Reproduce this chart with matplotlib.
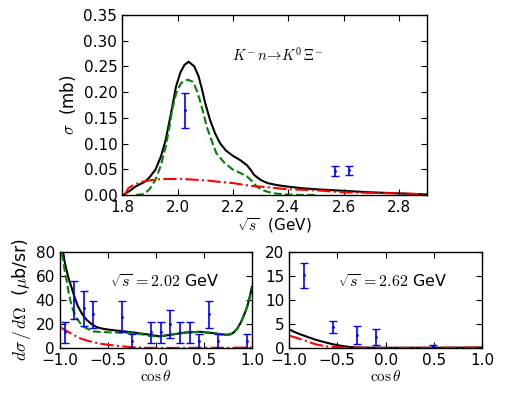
import matplotlib
matplotlib.use("Agg")
import matplotlib.pyplot as plt

plt.rcParams.update({
    "font.size": 11,
    "mathtext.fontset": "cm",
    "xtick.direction": "in", "ytick.direction": "in",
    "xtick.top": True, "ytick.right": True,
    "xtick.major.size": 4, "ytick.major.size": 4,
    "axes.linewidth": 1.0,
})

# total cross section, sqrt(s) in GeV, sigma in mb
tot_x = [1.804, 1.83, 1.847, 1.865, 1.883, 1.90, 1.92, 1.94, 1.957, 1.975, 1.994, 2.01,
         2.025, 2.04, 2.06, 2.075, 2.086, 2.10, 2.117, 2.135, 2.154, 2.175, 2.2, 2.225,
         2.25, 2.265, 2.276, 2.30, 2.325, 2.36, 2.4, 2.45, 2.5, 2.6, 2.7, 2.8, 2.9]
tot_y = [0.0, 0.009, 0.016, 0.021, 0.026, 0.035, 0.049, 0.075, 0.107, 0.155, 0.21, 0.238,
         0.253, 0.259, 0.25, 0.232, 0.21, 0.178, 0.146, 0.12, 0.10, 0.086, 0.076, 0.068,
         0.058, 0.048, 0.039, 0.029, 0.023, 0.019, 0.016, 0.013, 0.011, 0.008, 0.005, 0.003, 0.001]
res_x = [1.85, 1.87, 1.883, 1.90, 1.92, 1.94, 1.957, 1.97, 1.98, 1.995, 2.012, 2.025, 2.037,
         2.055, 2.068, 2.08, 2.093, 2.105, 2.12, 2.14, 2.17, 2.2, 2.225, 2.25, 2.27, 2.286,
         2.305, 2.325, 2.35, 2.386, 2.43, 2.5]
res_y = [0.0, 0.001, 0.003, 0.012, 0.029, 0.058, 0.094, 0.13, 0.165, 0.198, 0.217, 0.222, 0.224,
         0.22, 0.205, 0.185, 0.16, 0.133, 0.11, 0.081, 0.062, 0.049, 0.043, 0.036, 0.026, 0.016,
         0.01, 0.006, 0.003, 0.001, 0.0, 0.0]
bg_x = [1.81, 1.822, 1.84, 1.859, 1.875, 1.896, 1.92, 1.957, 2.0, 2.018, 2.05, 2.08, 2.11,
        2.14, 2.17, 2.2, 2.23, 2.26, 2.29, 2.325, 2.36, 2.4, 2.45, 2.5, 2.55, 2.6, 2.7, 2.8, 2.9]
bg_y = [0.0, 0.013, 0.019, 0.023, 0.026, 0.028, 0.030, 0.031, 0.031, 0.031, 0.030, 0.029, 0.028,
        0.026, 0.0245, 0.023, 0.0205, 0.018, 0.0165, 0.015, 0.013, 0.011, 0.010, 0.009, 0.007,
        0.005, 0.004, 0.003, 0.001]
dat_x = [2.028, 2.568, 2.617]
dat_y = [0.165, 0.046, 0.048]
dat_e = [0.034, 0.01, 0.009]

# differential cross section at sqrt(s)=2.02 GeV
l_tot_x = [-0.965, -0.95, -0.93, -0.905, -0.88, -0.845, -0.81, -0.765, -0.72, -0.67, -0.617,
           -0.55, -0.48, -0.35, -0.235, -0.15, -0.06, 0.04, 0.15, 0.23, 0.32, 0.46, 0.6, 0.67,
           0.74, 0.78, 0.81, 0.845, 0.88, 0.915, 0.95, 0.975, 1.0]
l_tot_y = [80, 72, 65, 57, 51, 42, 34.5, 28, 23.4, 20, 17.4, 16, 15.2, 14, 13, 12, 11, 9.7, 11,
           12, 13, 13.5, 12.4, 11.5, 11, 11.5, 13, 16, 20.7, 27, 34.5, 42, 51]
l_res_x = [-0.98, -0.965, -0.95, -0.93, -0.905, -0.88, -0.855, -0.826, -0.79, -0.757, -0.7,
           -0.65, -0.55, -0.48, -0.35, -0.235, -0.15, -0.06, 0.04, 0.15, 0.23, 0.32, 0.46, 0.6,
           0.67, 0.74, 0.78, 0.81, 0.845, 0.88, 0.915, 0.95, 0.975, 1.0]
l_res_y = [79, 73, 65, 56.5, 45, 36, 30, 25, 21, 18, 15.5, 13.8, 13.3, 13, 12.8, 12.4, 11.5, 10,
           9.7, 11, 12, 13, 13.5, 12.4, 11.5, 11, 11.5, 13, 16, 20.7, 27, 34.5, 42, 51]
l_bg_x = [-1.0, -0.93, -0.88, -0.83, -0.78, -0.72, -0.65, -0.58, -0.5, -0.41, -0.32, -0.235,
          -0.1, 0.0, 0.25, 0.5, 0.75, 1.0]
l_bg_y = [17.4, 14.3, 12.0, 9.7, 7.8, 6.3, 4.8, 3.6, 2.7, 1.9, 1.2, 0.6, 0.2, 0.1, 0.1, 0.2, 0.2, 0.4]
l_dat_x = [-0.95, -0.85, -0.75, -0.65, -0.35, -0.25, -0.05, 0.05, 0.15, 0.25, 0.35, 0.45,
           0.55, 0.65, 0.95]
l_dat_y = [13, 40, 33, 28, 26, 6, 13, 13, 20, 13, 13, 6, 28, 6, 6]
l_dat_e = [9, 16, 14.6, 11.5, 13, 6, 9, 9, 11.5, 9, 9, 6, 11.5, 6, 6]

# differential cross section at sqrt(s)=2.62 GeV
r_tot_x = [-1.0, -0.95, -0.89, -0.8, -0.72, -0.63, -0.54, -0.45, -0.37, -0.28, -0.2, 0.0, 0.5, 1.0]
r_tot_y = [3.9, 3.4, 2.9, 2.25, 1.7, 1.2, 0.75, 0.42, 0.2, 0.1, 0.07, 0.05, 0.05, 0.1]
r_bg_x = [-1.0, -0.95, -0.89, -0.8, -0.72, -0.61, -0.47, -0.3, 0.0, 0.5, 1.0]
r_bg_y = [2.6, 2.3, 1.9, 1.3, 0.75, 0.34, 0.14, 0.05, 0.03, 0.05, 0.1]
r_dat_x = [-0.845, -0.544, -0.30, -0.10, 0.49]
r_dat_y = [15.2, 4.4, 2.7, 2.3, 0.35]
r_dat_e = [2.6, 1.3, 1.8, 1.6, 0.35]

fig = plt.figure(figsize=(5.07, 3.93), dpi=100)
ax = fig.add_axes([0.241, 0.504, 0.601, 0.458])
ax.plot(tot_x, tot_y, "k-", lw=1.5)
ax.plot(res_x, res_y, "g--", lw=1.5)
ax.plot(bg_x, bg_y, "r-.", lw=1.5)
ax.errorbar(dat_x, dat_y, yerr=dat_e, fmt=".", color="b", ms=2, capsize=3, lw=1.2)
ax.set_xlim(1.8, 2.9); ax.set_ylim(0, 0.35)
ax.set_xticks([1.8, 2.0, 2.2, 2.4, 2.6, 2.8])
ax.set_yticks([0.0, 0.05, 0.10, 0.15, 0.20, 0.25, 0.30, 0.35])
ax.set_yticklabels(["0.00", "0.05", "0.10", "0.15", "0.20", "0.25", "0.30", "0.35"])
ax.set_xlabel(r"$\sqrt{s}$  (GeV)", labelpad=1)
ax.set_ylabel(r"$\sigma$  (mb)", fontsize=12)
ax.text(0.51, 0.78, r"$K^{-}\,n\!\rightarrow\! K^{0}\,\Xi^{-}$", transform=ax.transAxes,
        ha="center", va="center", fontsize=10.5)

ax1 = fig.add_axes([0.118, 0.1145, 0.379, 0.244])
ax1.plot(l_tot_x, l_tot_y, "k-", lw=1.5)
ax1.plot(l_res_x, l_res_y, "g--", lw=1.5)
ax1.plot(l_bg_x, l_bg_y, "r-.", lw=1.5)
ax1.errorbar(l_dat_x, l_dat_y, yerr=l_dat_e, fmt=".", color="b", ms=2, capsize=3, lw=1.2)
ax1.set_xlim(-1, 1); ax1.set_ylim(0, 80)
ax1.set_xticks([-1.0, -0.5, 0.0, 0.5, 1.0]); ax1.set_yticks([0, 20, 40, 60, 80])
ax1.set_xlabel(r"$\cos\theta$", labelpad=1)
ax1.set_ylabel(r"$d\sigma\,/\,d\Omega$  ($\mu$b/sr)", fontsize=12.5, labelpad=2)
ax1.text(0.26, 0.68, r"$\sqrt{s}\,=2.02$ GeV", transform=ax1.transAxes, va="center", fontsize=11.5)

ax2 = fig.add_axes([0.570, 0.1145, 0.381, 0.244])
ax2.plot(r_tot_x, r_tot_y, "k-", lw=1.5)
ax2.plot(r_bg_x, r_bg_y, "r-.", lw=1.5)
ax2.errorbar(r_dat_x, r_dat_y, yerr=r_dat_e, fmt=".", color="b", ms=2, capsize=3, lw=1.2)
ax2.set_xlim(-1, 1); ax2.set_ylim(0, 20)
ax2.set_xticks([-1.0, -0.5, 0.0, 0.5, 1.0]); ax2.set_yticks([0, 5, 10, 15, 20])
ax2.set_xlabel(r"$\cos\theta$", labelpad=1)
ax2.text(0.254, 0.68, r"$\sqrt{s}\,=2.62$ GeV", transform=ax2.transAxes, va="center", fontsize=11.5)

fig.savefig("out.png", dpi=100)
